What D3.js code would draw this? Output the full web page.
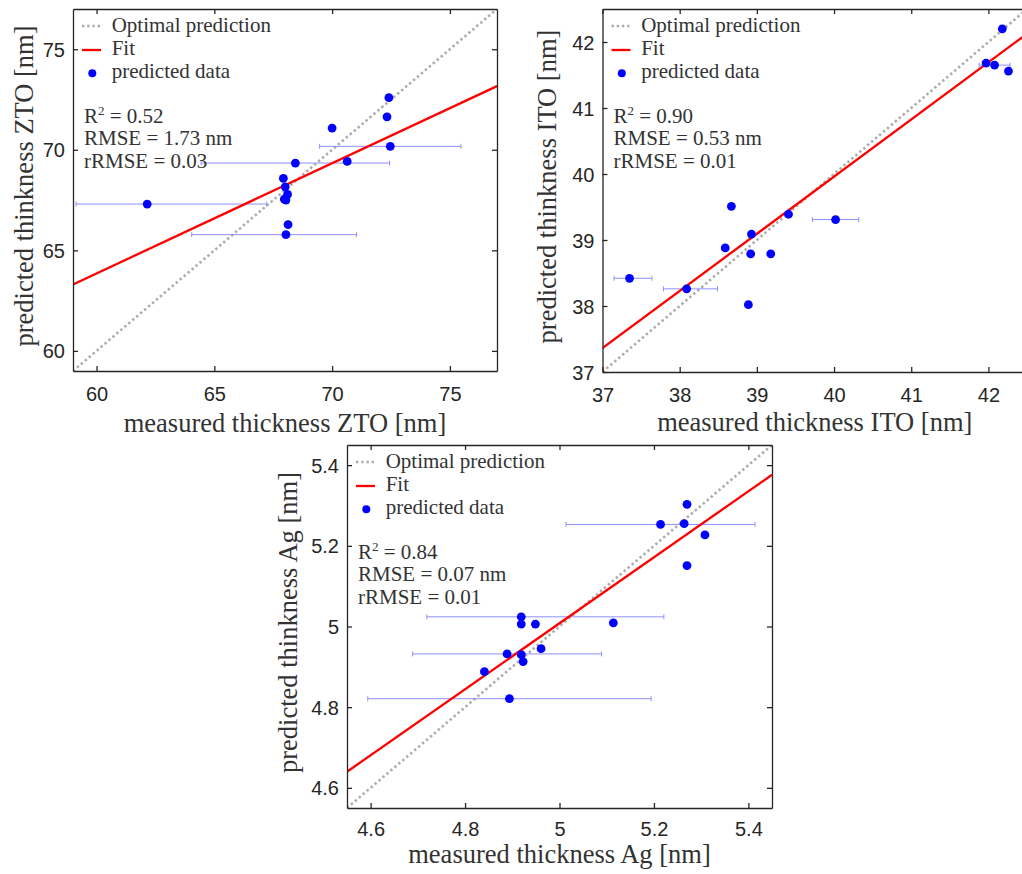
<!DOCTYPE html>
<html>
<head>
<meta charset="utf-8">
<script src="https://cdn.jsdelivr.net/npm/d3@7"></script>
<style>
  body { margin: 0; background: #fff; overflow: hidden; }
  .tick text { font-family: "Liberation Sans", Arial, sans-serif; font-size: 20px; fill: #262626; }
  .tick line, .domain { stroke: #262626; stroke-width: 1.3; }
  .lbl { font-family: "Liberation Serif", "Times New Roman", serif; fill: #333; }
</style>
</head>
<body>
<div class="graph"></div>
<script>
/*--------------- DATA -------------*/

// ZTO panel
const ztoMeasured  = [72.41, 72.33, 70.00, 72.47, 70.64, 68.44, 67.93, 68.01, 68.11, 67.97, 68.04, 62.15, 68.13, 68.04];
const ztoPredicted = [72.59, 71.64, 71.08, 70.17, 69.42, 69.34, 68.58, 68.16, 67.78, 67.55, 67.50, 67.30, 66.28, 65.78];
const ztoErrLo     = [0, 0, 0, 3.0, 0, 4.0, 0, 0, 0, 0, 0, 3.02, 0, 4.0];
const ztoErrHi     = [0, 0, 0, 3.0, 0, 4.0, 0, 0, 0, 0, 0, 5.07, 0, 3.0];
const ztoFit       = [0.548, 30.97];   // slope, intercept
const ztoStats     = ["0.52", "1.73", "0.03"];
const ztoTicks     = [60, 65, 70, 75];

// ITO panel
const itoMeasured  = [42.18, 41.97, 42.08, 42.26, 38.67, 39.41, 40.02, 38.93, 38.59, 38.92, 39.18, 37.35, 38.09, 38.89];
const itoPredicted = [42.20, 41.68, 41.65, 41.56, 39.51, 39.39, 39.31, 39.09, 38.88, 38.79, 38.79, 38.42, 38.26, 38.02];
const itoErrLo     = [0, 0, 0.2, 0, 0, 0, 0.3, 0, 0, 0, 0, 0.2, 0.3, 0];
const itoErrHi     = [0, 0, 0.2, 0, 0, 0, 0.3, 0, 0, 0, 0, 0.29, 0.4, 0];
const itoFit       = [0.866, 5.32];
const itoStats     = ["0.90", "0.53", "0.01"];
const itoTicks     = [37, 38, 39, 40, 41, 42];

// Ag panel
const agMeasured   = [5.270, 5.214, 5.264, 5.308, 5.270, 4.919, 4.919, 4.949, 5.114, 4.961, 4.889, 4.919, 4.923, 4.841, 4.894];
const agPredicted  = [5.303, 5.253, 5.255, 5.227, 5.151, 5.024, 5.006, 5.006, 5.009, 4.945, 4.932, 4.930, 4.913, 4.888, 4.821];
const agErrLo      = [0, 0.2, 0, 0, 0, 0.2, 0, 0, 0, 0, 0.2, 0, 0, 0, 0.3];
const agErrHi      = [0, 0.2, 0, 0, 0, 0.302, 0, 0, 0, 0, 0.2, 0, 0, 0, 0.3];
const agFit        = [0.818, 0.918];
const agStats      = ["0.84", "0.07", "0.01"];
const agTicks      = [4.6, 4.8, 5, 5.2, 5.4];

const legendLabels = ["Optimal prediction", "Fit", "predicted data"];

/*--------------- D3 STUFF -------------*/

const svg = d3.select(".graph").append("svg")
    .attr("width", 1022)
    .attr("height", 874);

const fmt = d3.format(".1~f");

// one scatter panel with fit, diagonal, error bars, legend
function drawPanel(p) {
    const W = p.right - p.left, H = p.bottom - p.top;
    const g = svg.append("g").attr("transform", `translate(${p.left}, ${p.top})`);

    const x = d3.scaleLinear().domain(p.domain).range([0, W]);
    const y = d3.scaleLinear().domain(p.domain).range([H, 0]);

    g.append("clipPath").attr("id", "clip" + p.id)
        .append("rect").attr("width", W).attr("height", H);

    const pts = p.measured.map((m, i) => ({x: m, y: p.predicted[i], lo: p.errLo[i], hi: p.errHi[i]}));

    // optimal prediction
    g.append("line")
        .attr("clip-path", `url(#clip${p.id})`)
        .attr("x1", x(p.domain[0])).attr("y1", y(p.domain[0]))
        .attr("x2", x(p.domain[1])).attr("y2", y(p.domain[1]))
        .attr("stroke", "#acacac").attr("stroke-width", 2.6)
        .attr("stroke-dasharray", "2.4 2.8");

    // error bars
    const eb = g.selectAll(".eb").data(pts.filter(d => d.lo > 0)).enter().append("g").attr("class", "eb")
        .attr("stroke", "#8f8fff").attr("stroke-width", 1);
    eb.append("line")
        .attr("x1", d => x(d.x - d.lo)).attr("x2", d => x(d.x + d.hi))
        .attr("y1", d => y(d.y)).attr("y2", d => y(d.y));
    eb.append("line")
        .attr("x1", d => x(d.x - d.lo)).attr("x2", d => x(d.x - d.lo))
        .attr("y1", d => y(d.y) - 2.5).attr("y2", d => y(d.y) + 2.5);
    eb.append("line")
        .attr("x1", d => x(d.x + d.hi)).attr("x2", d => x(d.x + d.hi))
        .attr("y1", d => y(d.y) - 2.5).attr("y2", d => y(d.y) + 2.5);

    // fit line
    g.append("line")
        .attr("clip-path", `url(#clip${p.id})`)
        .attr("x1", x(p.domain[0])).attr("y1", y(p.fit[0] * p.domain[0] + p.fit[1]))
        .attr("x2", x(p.domain[1])).attr("y2", y(p.fit[0] * p.domain[1] + p.fit[1]))
        .attr("stroke", "#ff0000").attr("stroke-width", 2.3);

    // points
    g.selectAll("circle.pt").data(pts).enter().append("circle")
        .attr("class", "pt")
        .attr("cx", d => x(d.x)).attr("cy", d => y(d.y))
        .attr("r", 4.4).attr("fill", "#0000ff");

    // axes, ticks inward on all sides
    g.append("g").attr("transform", `translate(0, ${H})`)
        .call(d3.axisBottom(x).tickValues(p.ticks).tickFormat(fmt).tickSizeInner(-5).tickSizeOuter(0).tickPadding(p.xPad));
    g.append("g")
        .call(d3.axisLeft(y).tickValues(p.ticks).tickFormat(fmt).tickSizeInner(-5).tickSizeOuter(0).tickPadding(8));
    g.append("g")
        .call(d3.axisTop(x).tickValues(p.ticks).tickFormat("").tickSizeInner(-5).tickSizeOuter(0));
    g.append("g").attr("transform", `translate(${W}, 0)`)
        .call(d3.axisRight(y).tickValues(p.ticks).tickFormat("").tickSizeInner(-5).tickSizeOuter(0));
    g.selectAll(".tick text").attr("dy", null).attr("dominant-baseline", null);
    g.selectAll(".tick text").each(function() {
        const t = d3.select(this);
        if (t.attr("x") !== null && +t.attr("x") < 0) t.attr("dy", "0.35em");
        else t.attr("dy", "0.71em");
    });

    // axis labels
    g.append("text").attr("class", "lbl")
        .attr("x", W / 2).attr("y", H + p.xLabelGap)
        .attr("text-anchor", "middle").attr("font-size", 26.5)
        .text(p.xLabel);
    g.append("text").attr("class", "lbl")
        .attr("transform", `translate(${-p.yLabelGap}, ${H / 2 - 4}) rotate(-90)`)
        .attr("text-anchor", "middle").attr("font-size", 26.5)
        .text(p.yLabel);

    // legend
    const leg = g.append("g").attr("class", "lbl").attr("font-size", 21).attr("fill", "#262626");
    leg.append("line").attr("x1", 9).attr("x2", 28).attr("y1", 17).attr("y2", 17)
        .attr("stroke", "#acacac").attr("stroke-width", 2.6).attr("stroke-dasharray", "2.4 2.8");
    leg.append("line").attr("x1", 9).attr("x2", 28).attr("y1", 41).attr("y2", 41)
        .attr("stroke", "#ff0000").attr("stroke-width", 2.3);
    leg.append("circle").attr("cx", 19.3).attr("cy", 64.3).attr("r", 4).attr("fill", "#0000ff");
    leg.selectAll("text.lg").data(legendLabels).enter().append("text")
        .attr("class", "lg")
        .attr("x", 38.7).attr("y", (d, i) => 23.3 + i * 22.6)
        .text(d => d);

    // statistics
    const r2 = leg.append("text").attr("x", 11).attr("y", 113.5);
    r2.append("tspan").text("R");
    r2.append("tspan").attr("font-size", 13).attr("dy", -8).text("2");
    r2.append("tspan").attr("dy", 8).text(" = " + p.stats[0]);
    leg.append("text").attr("x", 11).attr("y", 136).text(`RMSE = ${p.stats[1]} nm`);
    leg.append("text").attr("x", 11).attr("y", 158.5).text(`rRMSE = ${p.stats[2]}`);
}

drawPanel({id: 1, left: 73, right: 497, top: 9, bottom: 371, domain: [59, 77],
    measured: ztoMeasured, predicted: ztoPredicted, errLo: ztoErrLo, errHi: ztoErrHi,
    fit: ztoFit, stats: ztoStats, ticks: ztoTicks, xPad: 16, xLabelGap: 61, yLabelGap: 40,
    xLabel: "measured thickness ZTO [nm]", yLabel: "predicted thinkness ZTO [nm]"});

drawPanel({id: 2, left: 602.5, right: 1027, top: 9, bottom: 372, domain: [37, 42.5],
    measured: itoMeasured, predicted: itoPredicted, errLo: itoErrLo, errHi: itoErrHi,
    fit: itoFit, stats: itoStats, ticks: itoTicks, xPad: 16, xLabelGap: 59, yLabelGap: 47,
    xLabel: "measured thickness ITO [nm]", yLabel: "predicted thinkness ITO [nm]"});

drawPanel({id: 3, left: 347, right: 772, top: 445, bottom: 808, domain: [4.55, 5.45],
    measured: agMeasured, predicted: agPredicted, errLo: agErrLo, errHi: agErrHi,
    fit: agFit, stats: agStats, ticks: agTicks, xPad: 14, xLabelGap: 55, yLabelGap: 50,
    xLabel: "measured thickness Ag [nm]", yLabel: "predicted thinkness Ag [nm]"});
</script>
</body>
</html>
